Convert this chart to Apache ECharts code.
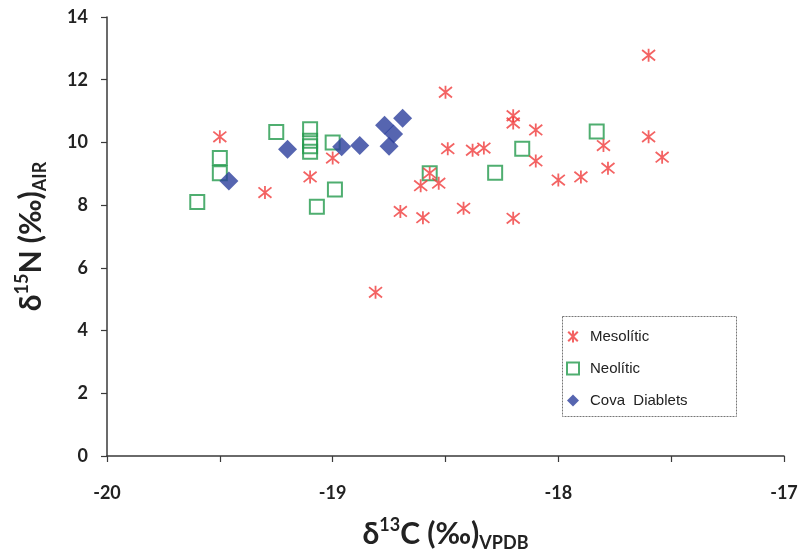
<!DOCTYPE html>
<html>
<head>
<meta charset="utf-8">
<script src="https://cdn.jsdelivr.net/npm/echarts@6/dist/echarts.min.js"></script>
<style>
html,body{margin:0;padding:0;background:#fff;}
#chart{width:801px;height:554px;}
</style>
</head>
<body>
<div id="chart"></div>
<script>
// δ13C (x), δ15N (y)
const mesoliticX = [-19.50,-19.30,-19.10,-19.00,-18.81,-18.70,-18.60,-18.61,-18.53,-18.57,-18.50,-18.49,-18.42,-18.38,-18.33,-18.20,-18.20,-18.20,-18.10,-18.10,-18.00,-17.90,-17.80,-17.78,-17.60,-17.60,-17.54];
const mesoliticY = [10.18,8.40,8.90,9.50,5.22,7.80,7.60,8.62,8.70,9.02,11.60,9.80,7.90,9.75,9.82,10.85,10.62,7.58,10.40,9.41,8.80,8.90,9.90,9.18,12.78,10.18,9.53];

const neoliticX = [-19.60,-19.50,-19.50,-19.25,-19.10,-19.10,-19.10,-19.10,-19.00,-18.99,-19.07,-18.57,-18.28,-18.16,-17.83];
const neoliticY = [8.10,9.50,9.02,10.33,10.42,10.05,9.88,9.70,10.00,8.50,7.95,9.02,9.03,9.80,10.35];

const covaX = [-19.46,-19.20,-18.96,-18.88,-18.77,-18.69,-18.73,-18.75];
const covaY = [8.77,9.78,9.86,9.90,10.55,10.77,10.27,9.88];

const seriesNames = ['Mesolític', 'Neolític', 'Cova  Diablets'];
const xTicks = [-20, -19, -18, -17];
const yTicks = [0, 2, 4, 6, 8, 10, 12, 14];

function pairs(xs, ys) { return xs.map((x, i) => [x, ys[i]]); }

const starPath = 'path://M1,1L9,9M9,1L1,9M5,0L5,10';
const labelFont = 'Lato';

const titleRich = {
  m: {fontFamily: labelFont, fontWeight: 'bold', fontSize: 30, color: '#222', lineHeight: 36, verticalAlign: 'middle'},
  sup: {fontFamily: labelFont, fontWeight: 'bold', fontSize: 18, color: '#222', lineHeight: 18, verticalAlign: 'top'},
  sub: {fontFamily: labelFont, fontWeight: 'bold', fontSize: 18, color: '#222', lineHeight: 18, verticalAlign: 'bottom'}
};

const chart = echarts.init(document.getElementById('chart'), null, {renderer: 'canvas'});
chart.setOption({
  animation: false,
  backgroundColor: '#fff',
  grid: {left: 107, right: 17, top: 17, bottom: 98, containLabel: false, outerBoundsMode: 'none'},
  xAxis: {
    type: 'value', min: -20, max: -17, interval: 0.5,
    axisLine: {show: true, lineStyle: {color: '#3a3a3a', width: 1.5}},
    axisTick: {show: true, length: 6, lineStyle: {color: '#3a3a3a', width: 1.2}},
    splitLine: {show: false},
    axisLabel: {
      margin: 28, color: '#222', fontFamily: labelFont, fontWeight: 'bold', fontSize: 18,
      formatter: v => xTicks.indexOf(v) >= 0 ? String(v) : ''
    },
    name: '{m|δ}{sup|13}{m|C (‰)}{sub|VPDB}',
    nameLocation: 'middle', nameGap: 60,
    nameTextStyle: {rich: titleRich}
  },
  yAxis: {
    type: 'value', min: 0, max: 14, interval: 2,
    axisLine: {show: true, lineStyle: {color: '#3a3a3a', width: 1.5}},
    axisTick: {show: true, length: 6, lineStyle: {color: '#3a3a3a', width: 1.2}},
    splitLine: {show: false},
    axisLabel: {margin: 19, color: '#222', fontFamily: labelFont, fontWeight: 'bold', fontSize: 18},
    name: '{m|δ}{sup|15}{m|N (‰)}{sub|AIR}',
    nameLocation: 'middle', nameGap: 58, nameRotate: 90,
    nameTextStyle: {rich: titleRich}
  },
  legend: {
    orient: 'vertical', left: 561, top: 324, itemGap: 17,
    itemWidth: 12, itemHeight: 12,
    textStyle: {fontFamily: 'Liberation Sans', fontSize: 15, color: '#222', padding: [0, 0, 0, 6]},
    data: seriesNames
  },
  graphic: [{
    type: 'rect', left: 562, top: 316, z: -1,
    shape: {width: 174, height: 100},
    style: {fill: '#fff', stroke: '#777', lineWidth: 1, lineDash: [2, 1]}
  }],
  series: [
    {
      name: seriesNames[0], type: 'scatter', data: pairs(mesoliticX, mesoliticY),
      symbol: starPath, symbolSize: 13,
      itemStyle: {color: 'transparent', borderColor: '#f03c3c', borderWidth: 1.8}, z: 3
    },
    {
      name: seriesNames[1], type: 'scatter', data: pairs(neoliticX, neoliticY),
      symbol: 'rect', symbolSize: 14,
      itemStyle: {color: 'transparent', borderColor: '#239a4c', borderWidth: 2}, z: 2
    },
    {
      name: seriesNames[2], type: 'scatter', data: pairs(covaX, covaY),
      symbol: 'diamond', symbolSize: [19, 19],
      itemStyle: {color: '#2c3f9c'}, z: 4
    }
  ]
});
</script>
</body>
</html>
